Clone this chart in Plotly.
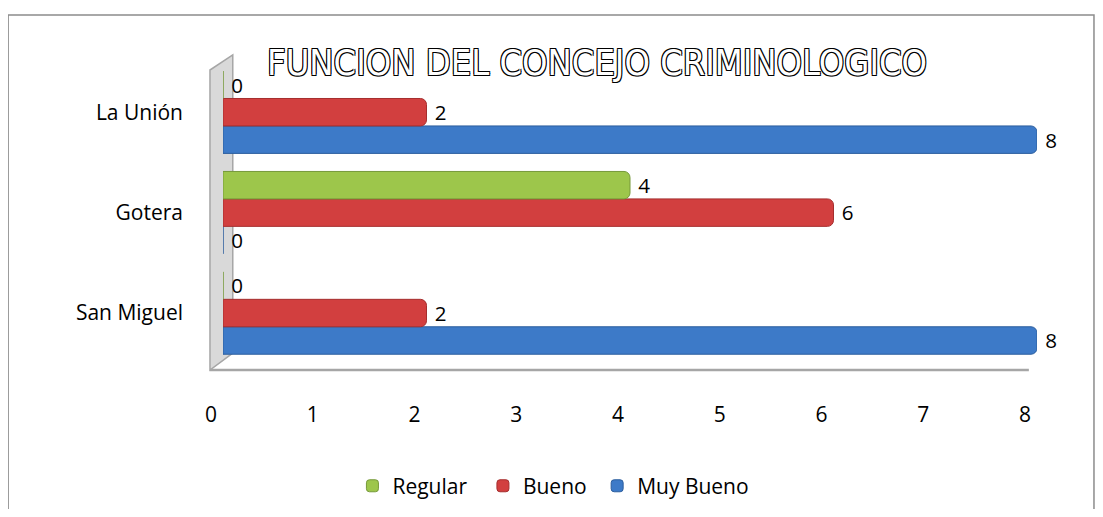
import plotly.graph_objects as go

categories = ["San Miguel", "Gotera", "La Unión"]
regular = [0, 4, 0]
bueno = [2, 6, 2]
muy_bueno = [8, 0, 8]
x_ticks = [0, 1, 2, 3, 4, 5, 6, 7, 8]
title_text = "FUNCION DEL CONCEJO CRIMINOLOGICO"

FONT = "Open Sans"
NB = "\u00a0"
FS = 21

fig = go.Figure()
series = [
    ("Muy Bueno", muy_bueno, "#3D7AC8", "#2C5E9E"),
    ("Bueno" + NB * 1, bueno, "#D23F3F", "#A52E2E"),
    ("Regular" + NB * 2, regular, "#9DC64B", "#76993A"),
]
for label, vals, col, edge in series:
    fig.add_trace(go.Bar(
        y=categories, x=vals, name=label, orientation="h",
        marker=dict(color=col, line=dict(color=edge, width=1), cornerradius=6),
        text=[str(v) for v in vals], texttemplate=NB + "%{text}",
        textposition="outside",
        textfont=dict(family=FONT, size=FS, color="black"),
        cliponaxis=False,
    ))

# back wall and floor decoration
fig.add_shape(type="path", xref="paper", yref="paper",
              path="M -0.016 0 L -0.016 0.974 L 0.012 1.023 L 0.012 0.055 Z",
              fillcolor="#D9D9D9", line=dict(color="#A6A6A6", width=1.5), layer="below")
fig.add_shape(type="line", xref="paper", yref="paper", x0=-0.016, y0=0, x1=0.99, y1=0,
              line=dict(color="#A6A6A6", width=2.5), layer="below")
# outer chart border
fig.add_shape(type="rect", xref="paper", yref="paper",
              x0=-0.264, y0=-0.47, x1=1.070, y1=1.153,
              line=dict(color="#8C8C8C", width=1.5), layer="below")

fig.add_annotation(text=title_text, xref="paper", yref="paper", x=0.459, y=1.0,
                   xanchor="center", yanchor="middle", showarrow=False,
                   font=dict(family="DejaVu Sans Condensed", size=36, color="white",
                             shadow="1px 1px 0 black, -1px -1px 0 black, 1px -1px 0 black, -1px 1px 0 black"))

fig.update_layout(
    width=1087, height=501,
    paper_bgcolor="white", plot_bgcolor="white",
    margin=dict(l=215, r=58, t=54, b=139, autoexpand=False),
    barmode="group", bargap=0.18, bargroupgap=0,
    showlegend=True,
    legend=dict(orientation="h", x=0.159, y=-0.377, xanchor="left", yanchor="middle",
                traceorder="reversed", font=dict(family=FONT, size=FS, color="black")),
    xaxis=dict(range=[0, 8], tickvals=x_ticks, showgrid=False, zeroline=False,
               showline=False, tickfont=dict(family=FONT, size=FS, color="black"),
               ticklabelstandoff=30, ticklabelshift=-12, automargin=False),
    yaxis=dict(range=[-0.567, 2.5], showgrid=False, zeroline=False, showline=False,
               tickfont=dict(family=FONT, size=FS, color="black"),
               ticklabelstandoff=39, automargin=False),
    font=dict(family=FONT),
)

fig.write_html("out.html")
